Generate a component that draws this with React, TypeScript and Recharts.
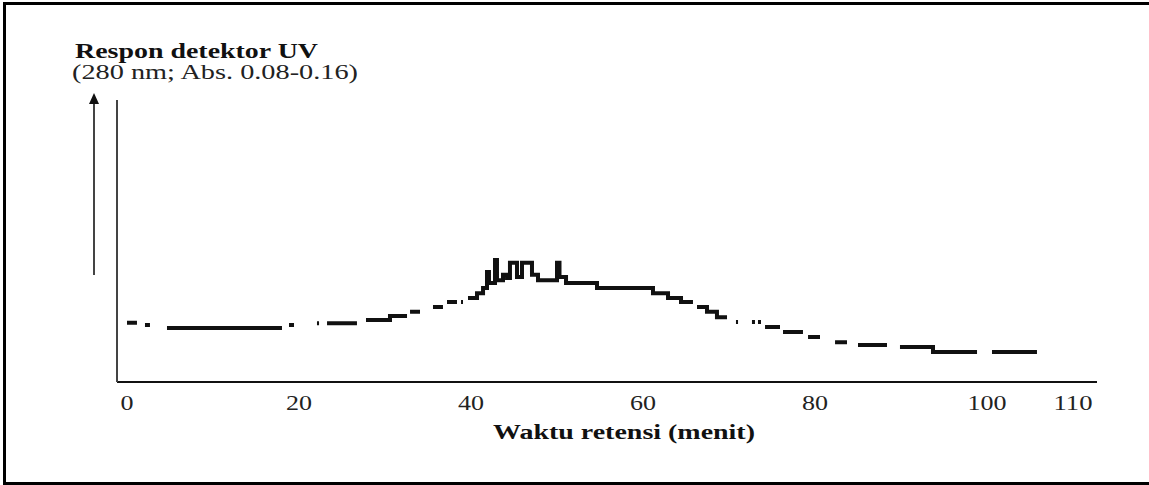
import React from 'react';
import { LineChart, Line, XAxis, YAxis, Label } from 'recharts';

// chromatogram trace: [retention time (min), absorbance] pairs.
// each inner array is one unbroken piece of the printed trace
const baselineSegments: [number, number][][] = [
  [[0.0, 0.0968], [1.16, 0.0968]],
  [[2.09, 0.0962], [2.67, 0.0962]],
  [[4.65, 0.0953], [18.02, 0.0953]],
  [[18.84, 0.0962], [19.42, 0.0962]],
  [[22.09, 0.0967], [22.33, 0.0967]],
  [[23.26, 0.0967], [26.74, 0.0967]],
];

const riseSegments: [number, number][][] = [
  [[27.79, 0.0976], [30.58, 0.0987], [32.56, 0.0987]],
  [[32.91, 0.0999], [34.07, 0.0999]],
  [[35.58, 0.1013], [36.74, 0.1013]],
  [[37.21, 0.1027], [38.37, 0.1027]],
  [[38.84, 0.1027], [39.07, 0.1027]],
];

const peakSegment: [number, number][] = [
  [39.65, 0.1038], [40.7, 0.1052], [41.4, 0.1067], [41.86, 0.1112],
  [42.09, 0.1081], [42.79, 0.1146], [43.02, 0.1089], [43.72, 0.1104],
  [44.19, 0.1095], [44.53, 0.1138], [45.35, 0.1098], [45.93, 0.1138],
  [47.09, 0.1104], [47.79, 0.1089], [50.0, 0.1138], [50.29, 0.1098],
  [51.05, 0.1081], [54.65, 0.1067], [61.16, 0.1052], [62.91, 0.1038],
  [64.42, 0.1027], [65.81, 0.1027],
];

const tailSegments: [number, number][][] = [
  [[66.28, 0.1013], [67.44, 0.0999], [68.6, 0.0984], [69.77, 0.0984]],
  [[70.81, 0.097], [71.05, 0.097]],
  [[72.67, 0.097], [73.02, 0.097]],
  [[73.37, 0.097], [73.72, 0.097]],
  [[74.19, 0.0956], [75.93, 0.0956]],
  [[76.28, 0.0942], [78.6, 0.0942]],
  [[79.19, 0.0928], [80.58, 0.0928]],
  [[82.33, 0.0913], [83.72, 0.0913]],
  [[85.0, 0.0905], [88.37, 0.0905]],
  [[89.88, 0.0899], [93.72, 0.0885], [98.84, 0.0885]],
  [[100.58, 0.0885], [105.81, 0.0885]],
];

const xTicks = [0, 20, 40, 60, 80, 100, 110];

const FONT = '"Liberation Serif", "DejaVu Serif", serif';

// flatten the pieces, putting a null row between them so the line breaks
const segments = [...baselineSegments, ...riseSegments, peakSegment, ...tailSegments];
const data: { t: number; abs: number | null }[] = [];
segments.forEach((seg, i) => {
  if (i > 0) {
    const prev = segments[i - 1];
    data.push({ t: (prev[prev.length - 1][0] + seg[0][0]) / 2, abs: null });
  }
  seg.forEach(([t, abs]) => data.push({ t, abs }));
});

// the scanned figure is stretched sideways, so text gets an explicit length
const XTick = (props: any) => {
  const { x, y, payload } = props;
  const s = String(payload.value);
  return (
    <text
      x={x}
      y={y}
      dy="0.71em"
      textAnchor="middle"
      fontFamily={FONT}
      fontSize={21}
      fill="#222"
      textLength={s.length * 13}
      lengthAdjust="spacingAndGlyphs"
    >
      {s}
    </text>
  );
};

const XTitle = (props: any) => {
  const { viewBox } = props;
  return (
    <text
      x={viewBox.x + viewBox.width / 2 + 17}
      y={viewBox.y + 57}
      textAnchor="middle"
      fontFamily={FONT}
      fontWeight="bold"
      fontSize={20}
      fill="#111"
      textLength={262}
      lengthAdjust="spacingAndGlyphs"
    >
      Waktu retensi (menit)
    </text>
  );
};

const App: React.FC = () => {
  return (
    <div style={{ position: 'absolute', left: 0, top: 0, width: 1149, height: 485, background: '#fff', overflow: 'hidden' }}>
      <div
        style={{
          position: 'absolute',
          left: 3,
          top: 2,
          width: 1160,
          height: 483,
          boxSizing: 'border-box',
          border: '3px solid #000',
          borderRight: 'none',
        }}
      />
      <LineChart
        width={1149}
        height={485}
        data={data}
        margin={{ top: 100, right: 52, bottom: 73, left: 116 }}
        style={{ position: 'absolute', left: 0, top: 0 }}
      >
        <XAxis
          dataKey="t"
          type="number"
          domain={[-1.163, 112.79]}
          ticks={xTicks}
          allowDataOverflow
          interval={0}
          tickLine={false}
          tickSize={0}
          tickMargin={13}
          tick={<XTick />}
          axisLine={{ stroke: '#111', strokeWidth: 2 }}
          height={30}
        >
          <Label content={<XTitle />} />
        </XAxis>
        <YAxis
          type="number"
          domain={[0.08, 0.16]}
          allowDataOverflow
          width={1}
          tick={false}
          tickLine={false}
          axisLine={{ stroke: '#444', strokeWidth: 2 }}
        />
        <Line
          dataKey="abs"
          type="stepAfter"
          stroke="#111"
          strokeWidth={4}
          dot={false}
          activeDot={false}
          connectNulls={false}
          isAnimationActive={false}
        />
      </LineChart>
      <svg width={1149} height={485} style={{ position: 'absolute', left: 0, top: 0, pointerEvents: 'none' }}>
        <text x={75} y={58} fontFamily={FONT} fontWeight="bold" fontSize={20} fill="#111" textLength={243} lengthAdjust="spacingAndGlyphs">
          Respon detektor UV
        </text>
        <text x={72} y={79} fontFamily={FONT} fontSize={20} fill="#222" textLength={286} lengthAdjust="spacingAndGlyphs">
          (280 nm; Abs. 0.08-0.16)
        </text>
        <line x1={94} y1={275} x2={94} y2={100} stroke="#444" strokeWidth={2} />
        <polygon points="89,104 99,104 94,93" fill="#111" />
      </svg>
    </div>
  );
};

export default App;
